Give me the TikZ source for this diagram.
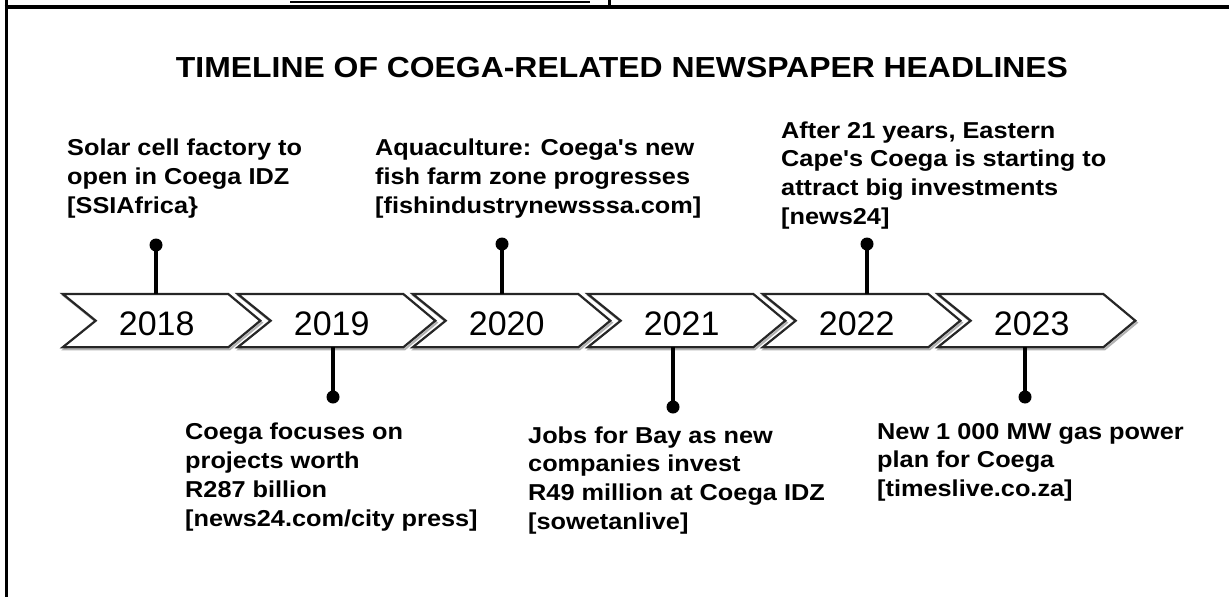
\documentclass[tikz,border=0pt]{standalone}
\usepackage{fontspec}
\setmainfont{Liberation Sans}
\newfontfamily\widesans{Liberation Sans}[FakeStretch=1.1]
\begin{document}
\begin{tikzpicture}[x=1pt,y=-1pt,
  frameline/.style={line width=3.5pt,black},
  chev/.style={draw=black!85,line width=2.2pt,line join=miter,fill=white},
  chevshadow/.style={draw=black!30,line width=2pt,line join=miter},
  yeartxt/.style={font=\fontsize{34}{40}\selectfont,anchor=base,inner sep=0pt},
  headtxt/.style={font=\widesans\bfseries\fontsize{23}{28.8}\selectfont,align=left,anchor=base west,inner sep=0pt},
  post/.style={line width=3.5pt,black},
  dotnode/.style={circle,fill=black,inner sep=0pt,minimum size=13pt}
]
\useasboundingbox (0,0) rectangle (1229,597);
% frame pieces
\draw[frameline,line width=4pt] (4.5,7) -- (1229,7);
\draw[frameline] (6.5,0) -- (6.5,597);
\draw[line width=3pt] (609,0) -- (609,7);
\draw[line width=1.5pt] (290,2) -- (590,2);
% title
\node[font=\widesans\bfseries\fontsize{29}{34}\selectfont,anchor=base,inner sep=0pt] (title) at (622,77) {TIMELINE OF COEGA-RELATED NEWSPAPER HEADLINES};
% chevrons
\foreach \i/\yr in {0/2018,1/2019,2/2020,3/2021,4/2022,5/2023}{
  \pgfmathsetmacro{\tl}{62.7+175*\i}
  \pgfmathsetmacro{\tr}{\tl+165.6}
  \draw[chevshadow] (\tl+1.5,296) -- (\tr+1.5,296) -- (\tr+33.5,322.7) -- (\tr+1.5,349.3) -- (\tl+1.5,349.3) -- (\tl+34.5,322.7) -- cycle;
  \draw[chev] (\tl,294) -- (\tr,294) -- (\tr+32,320.7) -- (\tr,347.3) -- (\tl,347.3) -- (\tl+33,320.7) -- cycle;
  \node[yeartxt] (y\yr) at (\tl+94,335) {\yr};
}
% post anchors
\coordinate (p18) at (156,294);
\coordinate (p19) at (333,347.3);
\coordinate (p20) at (502,294);
\coordinate (p21) at (673,347.3);
\coordinate (p22) at (867,294);
\coordinate (p23) at (1025,347.3);
\node[dotnode] (d18) at (156,245) {};
\node[dotnode] (d19) at (333,397) {};
\node[dotnode] (d20) at (502,244) {};
\node[dotnode] (d21) at (673,407) {};
\node[dotnode] (d22) at (867,244) {};
\node[dotnode] (d23) at (1025,397) {};
\draw[post] (p18) -- (d18.center);
\draw[post] (p19) -- (d19.center);
\draw[post] (p20) -- (d20.center);
\draw[post] (p21) -- (d21.center);
\draw[post] (p22) -- (d22.center);
\draw[post] (p23) -- (d23.center);
% headlines (anchor = baseline of last line)
\node[headtxt] (h18) at (67,213.5) {Solar cell factory to\\open in Coega IDZ\\{}[SSIAfrica\}};
\node[headtxt] (h20) at (375,213.5) {Aquaculture: Coega's new\\fish farm zone progresses\\{}[fishindustrynewsssa.com]};
\node[headtxt] (h22) at (781,224.5) {After 21 years, Eastern\\Cape's Coega is starting to\\attract big investments\\{}[news24]};
\node[headtxt] (h19) at (185,526) {Coega focuses on\\projects worth\\R287 billion\\{}[news24.com/city press]};
\node[headtxt] (h21) at (528,529.4) {Jobs for Bay as new\\companies invest\\R49 million at Coega IDZ\\{}[sowetanlive]};
\node[headtxt] (h23) at (877,496.6) {New 1 000 MW gas power\\plan for Coega\\{}[timeslive.co.za]};
\end{tikzpicture}
\end{document}
